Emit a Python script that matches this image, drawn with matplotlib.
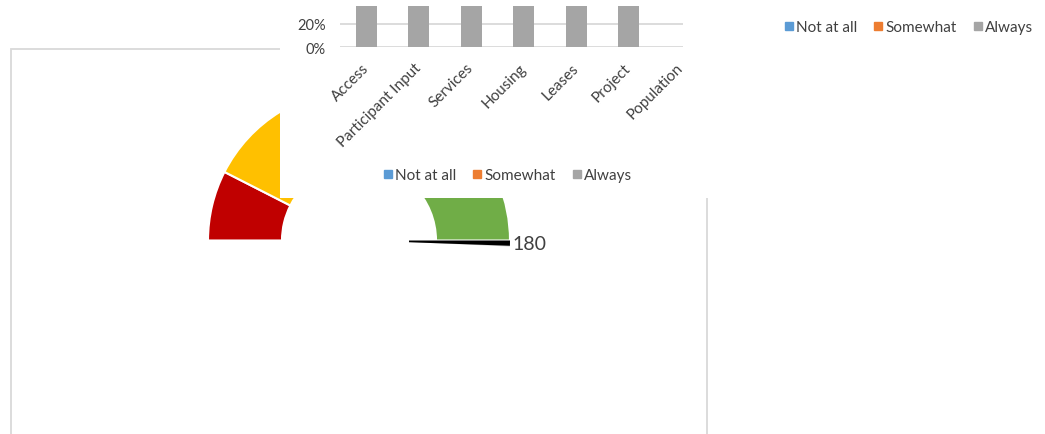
import matplotlib
matplotlib.use("Agg")
import matplotlib.pyplot as plt
from matplotlib.patches import Wedge, Rectangle
from matplotlib.lines import Line2D

plt.rcParams['font.family'] = ['Lato', 'DejaVu Sans']

# ---------------- data ----------------
categories = ["Access", "Participant Input", "Services", "Housing", "Leases", "Project", "Population"]
not_at_all = [0, 0, 0, 0, 0, 0, 0]
somewhat = [0, 0, 0, 0, 0, 0, 0]
always = [1.0, 1.0, 1.0, 1.0, 1.0, 1.0, 0]
series_names = ["Not at all", "Somewhat", "Always"]
series_colors = ["#5B9BD5", "#ED7D31", "#A5A5A5"]
ytick_vals = [0, 0.2]
ytick_labels = ["0%", "20%"]

gauge_bands = [27, 63, 90]          # red, yellow, green (scale 0-180)
gauge_colors = ["#C00000", "#FFC000", "#70AD47"]
gauge_max = 180
needle_value = 180
needle_width = 2

# ---------------- figure ----------------
W, H = 1045, 435
fig = plt.figure(figsize=(W / 100, H / 100), dpi=100)

# background axes in pixel units (y measured upward)
gax = fig.add_axes([0, 0, 1, 1])
gax.set_xlim(0, W)
gax.set_ylim(0, H)
gax.axis("off")

def py(y):
    return H - y

# frame of gauge chart area
gax.add_patch(Rectangle((11, py(440)), 707 - 11, 440 - 50, fill=False,
                        edgecolor="#D9D9D9", linewidth=1.3, zorder=1))

# gauge
cx, cy = 359, py(241.5)
R_out, R_in = 151, 77
start = 0
for val, col in zip(gauge_bands, gauge_colors):
    a2 = 180 - start * 180 / gauge_max
    a1 = 180 - (start + val) * 180 / gauge_max
    gax.add_patch(Wedge((cx, cy), R_out, a1, a2, width=R_out - R_in,
                        facecolor=col, edgecolor="white", linewidth=1.5, zorder=2))
    start += val

# needle (thin slice) with shadow
na = 180 - needle_value * 180 / gauge_max
gax.add_patch(Wedge((cx + 50, cy - 1.5), R_out - 50, na - needle_width * 1.3, na,
                    facecolor="#A6A6A6", edgecolor="none", alpha=0.5, zorder=3))
gax.add_patch(Wedge((cx, cy), R_out, na - needle_width, na, width=R_out - 50,
                    facecolor="black", edgecolor="none", zorder=3.5))
gax.text(cx + R_out + 2, cy - 3, str(needle_value), fontsize=14, color="#404040",
         ha="left", va="center", zorder=4)

# white panel of overlapping bar chart
gax.add_patch(Rectangle((280, py(199)), 712 - 280, 199, facecolor="white",
                        edgecolor="none", zorder=5))

# ---------------- bar chart ----------------
ax = fig.add_axes([340 / W, 1 - 48.3 / H, 343 / W, 41.6 / H])
ax.set_zorder(2)
ax.patch.set_alpha(0)
x = list(range(len(categories)))
bottom = [0] * len(categories)
for vals, col in zip([not_at_all, somewhat, always], series_colors):
    ax.bar(x, vals, width=0.4, bottom=bottom, color=col, zorder=2)
    bottom = [b + v for b, v in zip(bottom, vals)]
ax.set_xlim(-0.5, -0.5 + 343 / 52.5)
ax.set_ylim(0, 0.357)
ax.set_yticks(ytick_vals)
ax.set_yticklabels(ytick_labels, fontsize=10.5, color="#404040")
ax.set_xticks(x)
ax.set_xticklabels(categories, rotation=45, ha="right", va="center",
                   rotation_mode="anchor", fontsize=11, color="#404040")
ax.tick_params(axis="x", length=0, pad=13)
ax.tick_params(axis="y", length=0, pad=10)
ax.yaxis.grid(True, color="#D9D9D9", linewidth=1.3, zorder=0)
ax.set_axisbelow(True)
for s in ax.spines.values():
    s.set_visible(False)

# ---------------- legends ----------------
def handles():
    return [Line2D([], [], marker="s", linestyle="none", markersize=6,
                   markerfacecolor=c, markeredgecolor=c) for c in series_colors]

for (xc, yc) in [(508, 176), (909, 28)]:
    fig.legend(handles(), series_names, loc="center",
               bbox_to_anchor=(xc / W, 1 - yc / H), ncol=3, frameon=False,
               fontsize=11, handlelength=0.55, handletextpad=0.2,
               columnspacing=1.1, borderpad=0, labelcolor="#404040")

fig.savefig("out.png", dpi=100)
